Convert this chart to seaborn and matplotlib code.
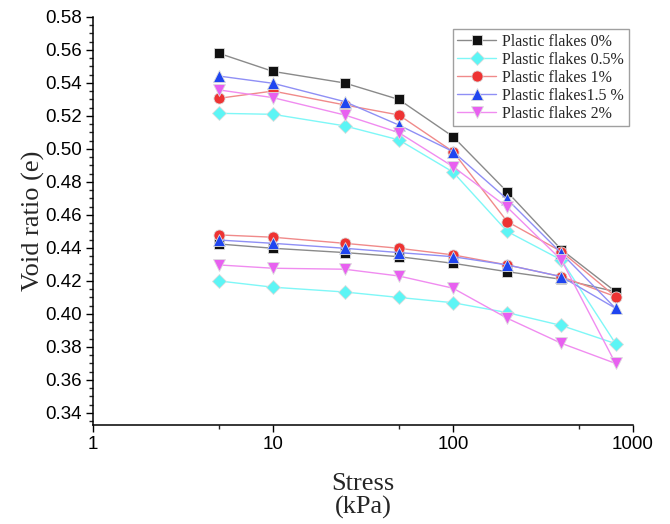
import numpy as np
import pandas as pd
import matplotlib
matplotlib.use("Agg")
import matplotlib.pyplot as plt
import seaborn as sns
from matplotlib.ticker import FixedLocator, MultipleLocator, NullFormatter

stress = [5, 10, 25, 50, 100, 200, 400, 800, 400, 200, 100, 50, 25, 10, 5]
labels = ["Plastic flakes 0%", "Plastic flakes 0.5%", "Plastic flakes 1%",
          "Plastic flakes1.5 %", "Plastic flakes 2%"]
e_0 = [0.558, 0.547, 0.540, 0.530, 0.5075, 0.474, 0.439, 0.4135,
       0.421, 0.4256, 0.4307, 0.4347, 0.4372, 0.4398, 0.4424]
e_05 = [0.5216, 0.521, 0.514, 0.5055, 0.486, 0.450, 0.4327, 0.382,
        0.393, 0.4008, 0.4068, 0.410, 0.4133, 0.4162, 0.420]
e_1 = [0.5307, 0.5351, 0.5267, 0.5206, 0.4984, 0.456, 0.4378, 0.4105,
       0.4226, 0.4297, 0.4358, 0.4398, 0.4428, 0.4465, 0.4479]
e_15 = [0.5442, 0.5398, 0.5287, 0.5145, 0.4984, 0.4695, 0.4368, 0.4034,
        0.4226, 0.4297, 0.4347, 0.4372, 0.4398, 0.4428, 0.4448]
e_2 = [0.5358, 0.5311, 0.5206, 0.5099, 0.4893, 0.4647, 0.4327, 0.370,
       0.3822, 0.3974, 0.4156, 0.423, 0.4271, 0.4277, 0.4297]
series = [e_0, e_05, e_1, e_15, e_2]

marker_colors = ["#111111", "#5CF5F5", "#EE3333", "#1F45F0", "#E860F0"]
line_colors = ["#8a8a8a", "#7ff7f7", "#f08a8a", "#8f8ff5", "#f08cf0"]
markers = ["s", "D", "o", "^", "v"]
msizes = [7, 7.5, 8, 8.5, 8.5]

sns.set_style("ticks")
plt.rcParams["font.family"] = ["Liberation Sans", "DejaVu Sans"]

fig = plt.figure(figsize=(6.7, 5.24), dpi=100)
ax = fig.add_axes([0.1388, 0.189, 0.806, 0.7786])

handles = []
for lab, vals, mc, lc, mk, ms in zip(labels, series, marker_colors, line_colors, markers, msizes):
    df = pd.DataFrame({"stress": stress, "e": vals})
    sns.lineplot(data=df, x="stress", y="e", sort=False, estimator=None, ax=ax,
                 color=lc, linewidth=1.0, marker=mk, markersize=ms,
                 markerfacecolor=mc, markeredgecolor="#dddddd", markeredgewidth=0.6)
    h, = ax.plot([], [], color=lc, linewidth=1.0, marker=mk, markersize=ms,
                 markerfacecolor=mc, markeredgecolor="#dddddd", markeredgewidth=0.6)
    handles.append(h)

ax.set_xscale("log")
ax.set_xlim(1, 1000)
ax.set_ylim(0.3327, 0.58)
ax.xaxis.set_major_locator(FixedLocator([1, 10, 100, 1000]))
ax.xaxis.set_minor_locator(FixedLocator([5, 50, 500]))
ax.xaxis.set_minor_formatter(NullFormatter())
ax.set_xticklabels(["1", "10", "100", "1000"])
ax.yaxis.set_major_locator(FixedLocator(np.round(np.arange(0.34, 0.5801, 0.02), 2)))
ax.yaxis.set_minor_locator(MultipleLocator(0.005))
ax.yaxis.set_major_formatter(plt.FuncFormatter(lambda v, p: f"{v:.2f}"))

ax.tick_params(axis="both", which="major", direction="out", length=5, width=1,
               labelsize=13.5, colors="black", pad=3)
ax.tick_params(axis="both", which="minor", direction="out", length=3, width=1)
for s in ["top", "right"]:
    ax.spines[s].set_visible(False)
for s in ["left", "bottom"]:
    ax.spines[s].set_linewidth(1.1)
    ax.spines[s].set_color("black")

ax.set_xlabel("Stress\n(kPa)", fontsize=19, family=["Liberation Serif"],
              labelpad=14, linespacing=1.1)
ax.set_ylabel("Void ratio (e)", fontsize=19, family=["Liberation Serif"], labelpad=0)

leg = ax.legend(handles, labels, loc="upper right", bbox_to_anchor=(0.998, 0.978),
                prop={"family": "Liberation Serif", "size": 11.5}, frameon=True,
                fancybox=False, edgecolor="#888888", handlelength=2.4,
                handletextpad=0.4, borderpad=0.3, labelspacing=0.12, borderaxespad=0.2)
leg.get_frame().set_linewidth(1.0)

fig.savefig("out.png", dpi=100)
